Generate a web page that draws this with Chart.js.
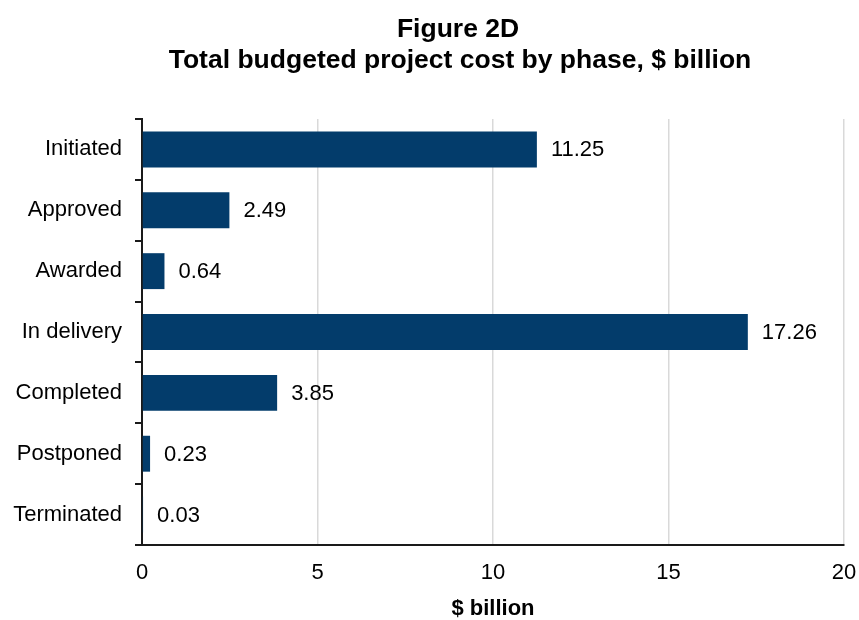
<!DOCTYPE html>
<html>
<head>
<meta charset="utf-8">
<title>Figure 2D</title>
<script src="https://cdn.jsdelivr.net/npm/chart.js@4/dist/chart.umd.min.js"></script>
<style>
    html, body { margin: 0; padding: 0; background: #fff; }
    #wrap { width: 859px; height: 620px; position: relative; }
</style>
</head>
<body>
<div id="wrap"><canvas id="phaseChart"></canvas></div>
<script>
// Phases and total budgeted cost ($ billion)
const phases = ['Initiated', 'Approved', 'Awarded', 'In delivery', 'Completed', 'Postponed', 'Terminated'];
const costs = [11.25, 2.49, 0.64, 17.26, 3.85, 0.23, 0.03];
const xTicks = [0, 5, 10, 15, 20];
const titleLines = ['Figure 2D', 'Total budgeted project cost by phase, $ billion'];

const FONT = '"Liberation Sans", Arial, Helvetica, sans-serif';
const BAR_COLOR = '#033c6b';

// Two-line heading above the plot
const headingPlugin = {
    id: 'heading',
    afterDraw(chart) {
        const ctx = chart.ctx;
        ctx.save();
        ctx.fillStyle = '#000';
        ctx.font = 'bold 26.5px ' + FONT;
        ctx.textAlign = 'center';
        ctx.textBaseline = 'alphabetic';
        ctx.fillText(titleLines[0], 458, 37);
        ctx.fillText(titleLines[1], 460, 68);
        ctx.restore();
    }
};

// Value printed just past the end of each bar
const valueLabels = {
    id: 'valueLabels',
    afterDatasetsDraw(chart) {
        const ctx = chart.ctx;
        const meta = chart.getDatasetMeta(0);
        ctx.save();
        ctx.fillStyle = '#000';
        ctx.font = '22px ' + FONT;
        ctx.textAlign = 'left';
        ctx.textBaseline = 'middle';
        meta.data.forEach((bar, i) => {
            ctx.fillText(costs[i].toFixed(2), bar.x + 14, bar.y + 1);
        });
        ctx.restore();
    }
};

const ctx = document.getElementById('phaseChart').getContext('2d');
new Chart(ctx, {
    type: 'bar',
    data: {
        labels: phases,
        datasets: [{
            data: costs,
            backgroundColor: BAR_COLOR,
            borderWidth: 0,
            categoryPercentage: 1,
            barPercentage: 0.59
        }]
    },
    options: {
        indexAxis: 'y',
        responsive: true,
        maintainAspectRatio: false,
        animation: false,
        layout: { padding: { top: 119, right: 15, bottom: 0, left: 0 } },
        plugins: {
            legend: { display: false },
            title: { display: false },
            tooltip: { enabled: false }
        },
        scales: {
            x: {
                min: 0,
                max: 20,
                afterBuildTicks: scale => { scale.ticks = xTicks.map(v => ({ value: v })); },
                afterFit: scale => {
                    scale.height = 75;
                    // let the "20" label hang into the right margin
                    scale.paddingLeft = 0;
                    scale.paddingRight = 0;
                },
                grid: { color: '#d9d9d9', lineWidth: 1.5, drawTicks: false },
                border: { color: '#1a1a1a', width: 2 },
                ticks: { color: '#000', padding: 15, font: { family: FONT, size: 22 } },
                title: {
                    display: true,
                    text: '$ billion',
                    color: '#000',
                    padding: { top: 0, bottom: 0 },
                    font: { family: FONT, size: 22, weight: 'bold', lineHeight: 1 }
                }
            },
            y: {
                afterFit: scale => { scale.width = 142; },
                grid: {
                    drawOnChartArea: false,
                    drawTicks: true,
                    tickLength: 7,
                    color: '#1a1a1a',
                    lineWidth: 2
                },
                border: { color: '#1a1a1a', width: 2 },
                ticks: { color: '#000', padding: 13, font: { family: FONT, size: 22 } }
            }
        }
    },
    plugins: [headingPlugin, valueLabels]
});
</script>
</body>
</html>
